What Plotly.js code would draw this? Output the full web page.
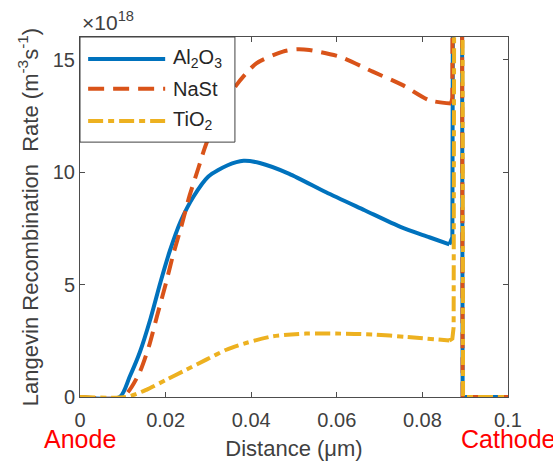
<!DOCTYPE html>
<html>
<head>
<meta charset="utf-8">
<script src="https://cdn.plot.ly/plotly-3.0.1.min.js"></script>
<style>html,body{margin:0;padding:0;background:#fff;}#chart{width:553px;height:461px;}</style>
</head>
<body>
<div id="chart"></div>
<script>
// Distance (um) and Langevin recombination rate (x1e18 m^-3 s^-1)
const al2o3X = [0, 0.0093, 0.0116, 0.0140, 0.0165, 0.0188, 0.0210, 0.0235, 0.0265, 0.0300, 0.0345, 0.0382, 0.0420, 0.0489, 0.0575, 0.0665, 0.0750, 0.0816, 0.0863, 0.0870, 0.0874, 0.0891, 0.0894, 0.1];
const al2o3Y = [0, 0, 0.9, 2.0, 3.5, 5.1, 6.5, 7.8, 8.9, 9.8, 10.3, 10.5, 10.4, 9.92, 9.1, 8.3, 7.55, 7.1, 6.78, 7.1, 40, 40, 0, 0];

const nastX = [0, 0.0100, 0.0137, 0.0161, 0.0180, 0.0200, 0.0217, 0.0237, 0.0256, 0.0277, 0.0295, 0.0330, 0.0365, 0.0412, 0.0474, 0.0505, 0.0536, 0.0606, 0.0684, 0.0754, 0.0816, 0.0867, 0.0870, 0.0872, 0.0891, 0.0894, 0.1];
const nastY = [0, 0, 1.0, 2.25, 3.6, 5.0, 6.28, 7.6, 8.95, 10.2, 11.26, 12.7, 13.85, 14.83, 15.35, 15.45, 15.42, 15.13, 14.46, 13.86, 13.19, 13.04, 13.3, 40, 40, 0, 0];

const tio2X = [0, 0.0108, 0.0155, 0.0202, 0.0248, 0.0295, 0.0342, 0.0388, 0.0451, 0.0528, 0.0598, 0.0684, 0.0762, 0.0863, 0.0870, 0.0873, 0.0876, 0.0892, 0.0895, 0.1];
const tio2Y = [0, 0, 0.32, 0.77, 1.21, 1.66, 2.1, 2.4, 2.7, 2.82, 2.82, 2.78, 2.67, 2.51, 2.6, 3.1, 40, 40, 0, 0];

// index where each profile meets the sharp cathode-side spike
const spikeStart = [18, 21, 13];

const seriesNames = ['Al<sub>2</sub>O<sub>3</sub>', 'NaSt', 'TiO<sub>2</sub>'];
const seriesColors = ['#0072BD', '#D95319', '#EDB120'];
const seriesDash = ['solid', '16px,9px', '15px,5px,6px,5px'];
const xTickVals = [0, 0.02, 0.04, 0.06, 0.08, 0.1];
const xTickText = ['0', '0.02', '0.04', '0.06', '0.08', '0.1'];
const yTickVals = [0, 5, 10, 15];
const yTickText = ['0', '5', '10', '15'];

const FONT = 'Liberation Sans, Arial, Helvetica, sans-serif';
const TXT = '#404040';

const xs = [al2o3X, nastX, tio2X];
const ys = [al2o3Y, nastY, tio2Y];
const traces = [];
xs.forEach((x, i) => {
  const k = spikeStart[i];
  traces.push({
    x: x.slice(0, k + 1), y: ys[i].slice(0, k + 1), name: seriesNames[i], mode: 'lines', showlegend: false,
    line: {color: seriesColors[i], width: 4, dash: seriesDash[i], shape: 'spline', smoothing: 0.7}
  });
  traces.push({
    x: x.slice(k), y: ys[i].slice(k), name: seriesNames[i], mode: 'lines', showlegend: false,
    line: {color: seriesColors[i], width: 4, dash: seriesDash[i], shape: 'linear'}
  });
});

// legend drawn as a boxed key in paper coordinates
const legendRows = [0.939, 0.856, 0.767];
const shapes = [
  {type: 'rect', xref: 'paper', yref: 'paper', x0: 0, x1: 0.362, y0: 0.708, y1: 1,
   line: {color: '#404040', width: 1}, fillcolor: '#ffffff', layer: 'above'}
];
const legendAnn = [];
seriesNames.forEach((n, i) => {
  shapes.push({type: 'line', xref: 'paper', yref: 'paper', x0: 0.019, x1: 0.199,
    y0: legendRows[i], y1: legendRows[i], layer: 'above',
    line: {color: seriesColors[i], width: 4, dash: seriesDash[i]}});
  legendAnn.push({xref: 'paper', yref: 'paper', x: 0.212, y: legendRows[i], xanchor: 'left', yanchor: 'middle',
    text: n, showarrow: false, font: {family: FONT, size: 20, color: '#262626'}});
});

const layout = {
  width: 553, height: 461,
  margin: {l: 80, r: 45, t: 37, b: 64},
  paper_bgcolor: '#fff', plot_bgcolor: '#fff',
  font: {family: FONT, size: 20, color: TXT},
  showlegend: false,
  xaxis: {
    range: [0, 0.1], tickvals: xTickVals, ticktext: xTickText,
    ticks: 'inside', ticklen: 5, tickcolor: '#4d4d4d', tickwidth: 1,
    showline: true, linecolor: '#4d4d4d', linewidth: 1, mirror: 'ticks',
    showgrid: false, zeroline: false, ticklabelstandoff: 5,
    tickfont: {family: FONT, size: 20, color: TXT},
    title: {text: 'Distance (\u03bcm)', font: {family: FONT, size: 22, color: TXT}, standoff: 18}
  },
  yaxis: {
    range: [0, 16], tickvals: yTickVals, ticktext: yTickText,
    ticks: 'inside', ticklen: 5, tickcolor: '#4d4d4d', tickwidth: 1,
    showline: true, linecolor: '#4d4d4d', linewidth: 1, mirror: 'ticks',
    showgrid: false, zeroline: false,
    tickfont: {family: FONT, size: 20, color: TXT},
    title: {text: 'Langevin Recombination&nbsp; Rate (m<sup>-3</sup>s<sup>-1</sup>)', font: {family: FONT, size: 22, color: TXT}, standoff: 8}
  },
  shapes: shapes,
  annotations: [
    {xref: 'paper', yref: 'paper', x: 0, y: 1, xanchor: 'left', yanchor: 'bottom', yshift: 1,
     text: '\u00d710<sup>18</sup>', showarrow: false, font: {family: FONT, size: 21, color: TXT}},
    {xref: 'paper', yref: 'paper', x: 0, y: 0, xanchor: 'center', yanchor: 'middle', yshift: -42,
     text: 'Anode', showarrow: false, font: {family: FONT, size: 25, color: '#ff0000'}},
    {xref: 'paper', yref: 'paper', x: 1, y: 0, xanchor: 'center', yanchor: 'middle', yshift: -42,
     text: 'Cathode', showarrow: false, font: {family: FONT, size: 25, color: '#ff0000'}}
  ].concat(legendAnn)
};

Plotly.newPlot('chart', traces, layout, {displayModeBar: false, staticPlot: true});
</script>
</body>
</html>
